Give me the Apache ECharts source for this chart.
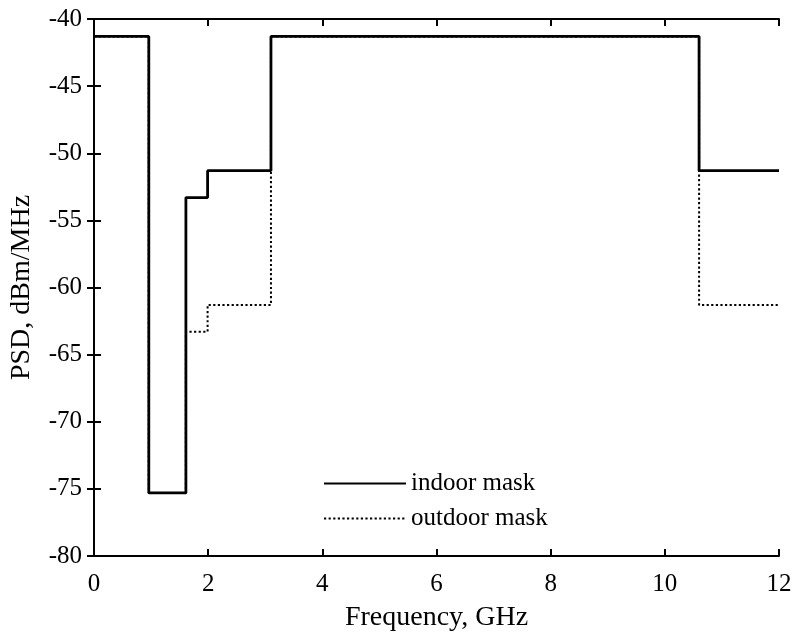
<!DOCTYPE html>
<html>
<head>
<meta charset="utf-8">
<script src="https://cdn.jsdelivr.net/npm/echarts@6/dist/echarts.min.js"></script>
<style>html,body{margin:0;padding:0;background:#fff;}#c{width:793px;height:633px;}</style>
</head>
<body>
<div id="c"></div>
<script>
// Frequency band edges (GHz)
var freqEdges = [0, 0.96, 1.61, 1.99, 3.1, 10.6, 12];
// PSD level in each band (dBm/MHz)
var indoorLevels = [-41.3, -75.3, -53.3, -51.3, -41.3, -51.3];
var outdoorLevels = [-41.3, -75.3, -63.3, -61.3, -41.3, -61.3];
var seriesNames = ['indoor mask', 'outdoor mask'];
var xTitle = 'Frequency, GHz';
var yTitle = 'PSD, dBm/MHz';

function toPoints(levels) {
  var pts = [];
  for (var i = 0; i < levels.length; i++) pts.push([freqEdges[i], levels[i]]);
  pts.push([freqEdges[freqEdges.length - 1], levels[levels.length - 1]]);
  return pts;
}

var font = 'Liberation Serif';
var chart = echarts.init(document.getElementById('c'), null, {renderer: 'canvas'});
var axisLine = {show: true, lineStyle: {color: '#000', width: 2}};
var tick = {show: true, inside: true, length: 7, lineStyle: {color: '#000', width: 2}};
chart.setOption({
  animation: false,
  backgroundColor: '#fff',
  grid: {left: 94, right: 14, top: 19, bottom: 77, containLabel: false, outerBoundsMode: 'none'},
  legend: {
    data: seriesNames,
    orient: 'vertical',
    left: 318,
    top: 466,
    itemWidth: 82,
    itemHeight: 25,
    itemGap: 10,
    itemStyle: {opacity: 0},
    textStyle: {fontFamily: font, fontSize: 25, color: '#000'}
  },
  xAxis: [{
    type: 'value', min: 0, max: 12, interval: 2,
    name: xTitle, nameLocation: 'middle', nameGap: 48,
    nameTextStyle: {fontFamily: font, fontSize: 28, color: '#000'},
    axisLine: axisLine, axisTick: tick,
    axisLabel: {fontFamily: font, fontSize: 25, color: '#000', margin: 16},
    splitLine: {show: false}
  }, {
    type: 'value', min: 0, max: 12, interval: 2, position: 'top',
    axisLine: axisLine, axisTick: tick, axisLabel: {show: false}, splitLine: {show: false}
  }],
  yAxis: [{
    type: 'value', min: -80, max: -40, interval: 5,
    name: yTitle, nameLocation: 'middle', nameGap: 58,
    nameTextStyle: {fontFamily: font, fontSize: 28, color: '#000'},
    axisLine: axisLine, axisTick: tick,
    axisLabel: {fontFamily: font, fontSize: 25, color: '#000', margin: 12},
    splitLine: {show: false}
  }, {
    type: 'value', min: -80, max: -40, interval: 5, position: 'right',
    axisLine: axisLine, axisTick: tick, axisLabel: {show: false}, splitLine: {show: false}
  }],
  series: [{
    name: seriesNames[1], type: 'line', step: 'end', symbol: 'none', z: 2,
    data: toPoints(outdoorLevels),
    lineStyle: {color: '#000', width: 2, type: [2.2, 2.4]},
    itemStyle: {color: '#000'}
  }, {
    name: seriesNames[0], type: 'line', step: 'end', symbol: 'none', z: 3,
    data: toPoints(indoorLevels),
    lineStyle: {color: '#000', width: 2.8, type: 'solid'},
    itemStyle: {color: '#000'}
  }]
});
</script>
</body>
</html>
